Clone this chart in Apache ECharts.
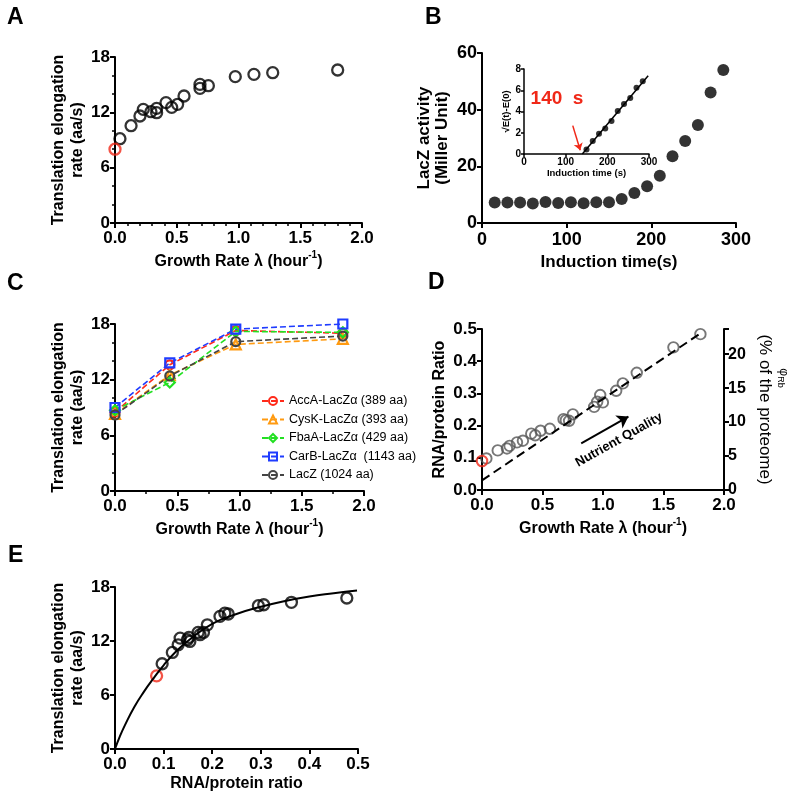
<!DOCTYPE html>
<html><head><meta charset="utf-8">
<script src="https://cdn.jsdelivr.net/npm/echarts@6/dist/echarts.min.js"></script>
<style>html,body{margin:0;padding:0;background:#fff}#c{width:800px;height:797px}</style>
</head><body><div id="c"></div>
<script>
const FONT = '"Liberation Sans", Arial, Helvetica, sans-serif';

// ---- Panel A: elongation rate vs growth rate ----
const aGrowth = [0.040, 0.13, 0.202, 0.229, 0.291, 0.337, 0.337, 0.413, 0.459, 0.507, 0.559, 0.688, 0.688, 0.756, 0.974, 1.125, 1.277, 1.803];
const aRate   = [9.14, 10.55, 11.6, 12.32, 12.07, 11.96, 12.43, 13.05, 12.54, 12.87, 13.77, 15.03, 14.6, 14.89, 15.87, 16.12, 16.3, 16.59];
const aRedGrowth = [0.0];
const aRedRate   = [8.0];

// ---- Panel B: LacZ induction kinetics ----
const bTime = [15, 30, 45, 60, 75, 90, 105, 120, 135, 150, 165, 180, 195, 210, 225, 240, 255, 270, 285];
const bActivity = [7.2, 7.2, 7.2, 6.85, 7.4, 7.1, 7.3, 7.0, 7.3, 7.3, 8.5, 10.6, 13.0, 16.7, 23.6, 28.9, 34.6, 46.1, 54.0];
const insetTime = [150, 165, 180, 195, 210, 225, 240, 255, 270, 285];
const insetSqrt = [0.42, 1.22, 1.9, 2.4, 3.1, 4.05, 4.7, 5.27, 6.23, 6.84];
const insetFitTime = [140, 298];
const insetFitSqrt = [0, 7.36];
const lagArrowTime = [117, 135];
const lagArrowSqrt = [2.67, 0.35];

// ---- Panel C: reporters ----
const cGrowth = [0.0, 0.44, 0.97, 1.83];
const cNames = ['AccA-LacZα (389 aa)', 'CysK-LacZα (393 aa)', 'FbaA-LacZα (429 aa)', 'CarB-LacZα  (1143 aa)', 'LacZ (1024 aa)'];
const cAccA = [8.5, 13.6, 17.3, 17.0];
const cCysK = [8.3, 12.5, 15.8, 16.4];
const cFbaA = [8.7, 11.7, 17.2, 17.1];
const cCarB = [9.0, 13.8, 17.45, 18.0];
const cLacZ = [8.2, 12.4, 16.1, 16.7];

// ---- Panel D: RNA/protein vs growth rate ----
const dGrowth = [0.036, 0.13, 0.206, 0.228, 0.289, 0.338, 0.407, 0.44, 0.484, 0.561, 0.674, 0.693, 0.72, 0.751, 0.927, 0.952, 0.977, 0.999, 1.109, 1.164, 1.279, 1.582, 1.805];
const dRatio  = [0.098, 0.123, 0.129, 0.137, 0.148, 0.153, 0.175, 0.17, 0.184, 0.19, 0.22, 0.217, 0.215, 0.235, 0.258, 0.274, 0.295, 0.272, 0.308, 0.331, 0.364, 0.443, 0.484];
const dRedGrowth = [0.0];
const dRedRatio  = [0.09];
const dFitGrowth = [0.0, 1.8];
const dFitRatio  = [0.03, 0.485];
const nqArrowGrowth = [0.82, 1.21];
const nqArrowRatio  = [0.145, 0.228];

// ---- Panel E: elongation rate vs RNA/protein ----
const eRatio = [0.097, 0.118, 0.130, 0.134, 0.149, 0.154, 0.152, 0.171, 0.175, 0.182, 0.19, 0.216, 0.226, 0.233, 0.295, 0.306, 0.363, 0.477];
const eRate  = [9.47, 10.73, 11.58, 12.32, 12.14, 11.95, 12.4, 12.95, 12.7, 12.95, 13.8, 14.74, 15.1, 15.0, 15.92, 16.03, 16.3, 16.78];
const eRedRatio = [0.0856];
const eRedRate  = [8.13];
const eCurveRatio = [0, 0.01, 0.02, 0.04, 0.06, 0.08, 0.1, 0.125, 0.15, 0.2, 0.25, 0.3, 0.35, 0.4, 0.45, 0.498];
const eCurveRate  = [0, 1.4, 2.6, 4.7, 6.4, 7.9, 9.3, 10.8, 12.0, 13.9, 15.0, 15.8, 16.45, 16.95, 17.3, 17.6];

const zip = (xs, ys) => xs.map((x, i) => [x, ys[i]]);

const RED = '#f02818';
const rich16 = {
  t: {fontSize: 16, fontWeight: 'bold', fontFamily: FONT, color: '#000', lineHeight: 20, verticalAlign: 'bottom'},
  s: {fontSize: 10, fontWeight: 'bold', fontFamily: FONT, color: '#000', lineHeight: 10, verticalAlign: 'top'}
};
const growthName = '{t|Growth Rate λ (hour}{s|-1}{t|)}';

function axis(grid, min, max, interval, o) {
  o = o || {};
  const fs = o.fs || 17;
  const a = {
    type: 'value', gridIndex: grid, min: min, max: max, interval: interval,
    axisLine: {show: true, onZero: false, lineStyle: {color: '#000', width: o.lw || 2}},
    axisTick: {show: true, length: o.tl || 5, lineStyle: {color: '#000', width: o.lw || 2}},
    splitLine: {show: false},
    axisLabel: {color: '#000', fontSize: fs, fontWeight: 'bold', fontFamily: FONT, margin: o.margin || 6,
      formatter: o.fmt || (v => String(v))},
    name: o.name || '', nameLocation: 'middle', nameGap: o.nameGap || 30,
    nameTextStyle: o.nameStyle || {color: '#000', fontSize: 16, fontWeight: 'bold', fontFamily: FONT, lineHeight: 19}
  };
  if (o.minor) a.minorTick = {show: true, splitNumber: o.minor, length: 3, lineStyle: {color: '#000', width: 1.5}};
  if (o.position) a.position = o.position;
  if (o.nameRotate !== undefined) a.nameRotate = o.nameRotate;
  return a;
}
const f1 = v => v.toFixed(1);

const hollow = (c, w) => ({color: 'rgba(0,0,0,0)', borderColor: c, borderWidth: w || 2.3});

const chart = echarts.init(document.getElementById('c'), null, {renderer: 'canvas'});
chart.setOption({
  animation: false,
  backgroundColor: '#fff',
  grid: [
    {left: 115, top: 57, width: 247, height: 166},
    {left: 482, top: 53, width: 254, height: 170},
    {left: 524, top: 69, width: 125, height: 85},
    {left: 115, top: 324, width: 249, height: 167},
    {left: 482, top: 329, width: 242, height: 161},
    {left: 115, top: 587, width: 243, height: 162}
  ],
  xAxis: [
    axis(0, 0, 2, 0.5, {fmt: f1, minor: 5, margin: 7, name: growthName, nameGap: 27,
      nameStyle: {rich: rich16}}),
    axis(1, 0, 300, 100, {fs: 18, margin: 8, name: 'Induction time(s)', nameGap: 31,
      nameStyle: {color: '#000', fontSize: 17, fontWeight: 'bold', fontFamily: FONT}}),
    axis(2, 0, 300, 100, {fs: 10, margin: 3, tl: 3, lw: 1.5, name: 'Induction time (s)', nameGap: 13,
      nameStyle: {color: '#000', fontSize: 9.5, fontWeight: 'bold', fontFamily: FONT}}),
    axis(3, 0, 2, 0.5, {fmt: f1, minor: 2, margin: 7, name: growthName, nameGap: 27,
      nameStyle: {rich: rich16}}),
    axis(4, 0, 2, 0.5, {fmt: f1, margin: 7, name: growthName, nameGap: 27,
      nameStyle: {rich: rich16}}),
    axis(5, 0, 0.5, 0.1, {fmt: f1, margin: 7, name: 'RNA/protein ratio', nameGap: 23})
  ],
  yAxis: [
    axis(0, 0, 18, 6, {minor: 3, margin: 5, name: 'Translation elongation\nrate (aa/s)', nameGap: 27}),
    axis(1, 0, 60, 20, {fs: 18, margin: 5, name: 'LacZ activity\n(Miller Unit)', nameGap: 31,
      nameStyle: {color: '#000', fontSize: 17, fontWeight: 'bold', fontFamily: FONT, lineHeight: 18}}),
    axis(2, 0, 8, 2, {fs: 10, margin: 3, tl: 3, lw: 1.5, name: '√E(t)-E(0)', nameGap: 13,
      nameStyle: {color: '#000', fontSize: 9.5, fontWeight: 'bold', fontFamily: FONT}}),
    axis(3, 0, 18, 6, {minor: 3, margin: 5, name: 'Translation elongation\nrate (aa/s)', nameGap: 27}),
    axis(4, 0, 0.5, 0.1, {fmt: f1, margin: 5, name: 'RNA/protein Ratio', nameGap: 31}),
    axis(4, 0, 23.7, 5, {position: 'right', margin: 4, fs: 16,
      fmt: v => (Math.abs(v % 5) < 1e-9 ? String(v) : ''),
      name: '(% of the proteome)', nameGap: 32, nameRotate: -90,
      nameStyle: {color: '#000', fontSize: 17, fontWeight: 'normal', fontFamily: FONT}}),
    axis(5, 0, 18, 6, {margin: 5, name: 'Translation elongation\nrate (aa/s)', nameGap: 27})
  ],
  legend: {
    orient: 'vertical', left: 256, top: 389, itemGap: 4.5, itemWidth: 22, itemHeight: 10,
    data: cNames,
    textStyle: {color: '#000', fontSize: 12.5, fontFamily: FONT, lineHeight: 14}
  },
  series: [
    // A
    {type: 'scatter', xAxisIndex: 0, yAxisIndex: 0, symbolSize: 11, data: zip(aGrowth, aRate), itemStyle: hollow('#000')},
    {type: 'scatter', xAxisIndex: 0, yAxisIndex: 0, symbolSize: 11, data: zip(aRedGrowth, aRedRate), itemStyle: hollow(RED)},
    // B
    {type: 'scatter', xAxisIndex: 1, yAxisIndex: 1, symbolSize: 12, data: zip(bTime, bActivity), itemStyle: {color: '#000'}},
    {type: 'line', xAxisIndex: 2, yAxisIndex: 2, symbol: 'none', data: zip(insetFitTime, insetFitSqrt),
      lineStyle: {color: '#000', width: 1.5},
      markLine: {silent: true, symbol: ['none', 'arrow'], symbolSize: 7, label: {show: false},
        lineStyle: {color: RED, width: 1.5, type: 'solid'},
        data: [[{coord: [lagArrowTime[0], lagArrowSqrt[0]]}, {coord: [lagArrowTime[1], lagArrowSqrt[1]]}]]}},
    {type: 'scatter', xAxisIndex: 2, yAxisIndex: 2, symbolSize: 6, data: zip(insetTime, insetSqrt), itemStyle: {color: '#000'}},
    // C
    {name: cNames[0], type: 'line', xAxisIndex: 3, yAxisIndex: 3, data: zip(cGrowth, cAccA), symbol: 'circle', symbolSize: 9,
      itemStyle: hollow('#ff2a1a', 2.2), lineStyle: {color: '#ff2a1a', width: 1.6, type: [6, 3]}},
    {name: cNames[1], type: 'line', xAxisIndex: 3, yAxisIndex: 3, data: zip(cGrowth, cCysK), symbol: 'triangle', symbolSize: 10,
      itemStyle: hollow('#ff9a10', 2.2), lineStyle: {color: '#ff9a10', width: 1.6, type: [6, 3]}},
    {name: cNames[2], type: 'line', xAxisIndex: 3, yAxisIndex: 3, data: zip(cGrowth, cFbaA), symbol: 'diamond', symbolSize: 10,
      itemStyle: hollow('#22e022', 2.2), lineStyle: {color: '#22e022', width: 1.6, type: [6, 3]}},
    {name: cNames[3], type: 'line', xAxisIndex: 3, yAxisIndex: 3, data: zip(cGrowth, cCarB), symbol: 'rect', symbolSize: 9,
      itemStyle: hollow('#1f3cff', 2.2), lineStyle: {color: '#1f3cff', width: 1.6, type: [6, 3]}},
    {name: cNames[4], type: 'line', xAxisIndex: 3, yAxisIndex: 3, data: zip(cGrowth, cLacZ), symbol: 'circle', symbolSize: 9,
      itemStyle: hollow('#444', 2.2), lineStyle: {color: '#444', width: 1.6, type: [6, 3]}},
    // D
    {type: 'line', xAxisIndex: 4, yAxisIndex: 4, symbol: 'none', data: zip(dFitGrowth, dFitRatio),
      lineStyle: {color: '#000', width: 2, type: [9, 5]},
      markLine: {silent: true, symbol: ['none', 'arrow'], symbolSize: 11, label: {show: false},
        lineStyle: {color: '#000', width: 2, type: 'solid'},
        data: [[{coord: [nqArrowGrowth[0], nqArrowRatio[0]]}, {coord: [nqArrowGrowth[1], nqArrowRatio[1]]}]]}},
    {type: 'scatter', xAxisIndex: 4, yAxisIndex: 4, symbolSize: 10.5, data: zip(dGrowth, dRatio), itemStyle: hollow('#555', 1.9)},
    {type: 'scatter', xAxisIndex: 4, yAxisIndex: 4, symbolSize: 10.5, data: zip(dRedGrowth, dRedRatio), itemStyle: hollow(RED, 2.1)},
    // E
    {type: 'line', xAxisIndex: 5, yAxisIndex: 6, symbol: 'none', smooth: true, data: zip(eCurveRatio, eCurveRate),
      lineStyle: {color: '#000', width: 2}},
    {type: 'scatter', xAxisIndex: 5, yAxisIndex: 6, symbolSize: 11, data: zip(eRatio, eRate), itemStyle: hollow('#000')},
    {type: 'scatter', xAxisIndex: 5, yAxisIndex: 6, symbolSize: 11, data: zip(eRedRatio, eRedRate), itemStyle: hollow(RED)}
  ],
  graphic: [
    {type: 'text', style: {text: 'A', x: 7, y: 6, font: 'bold 23px ' + FONT, fill: '#000'}},
    {type: 'text', style: {text: 'B', x: 425, y: 6, font: 'bold 23px ' + FONT, fill: '#000'}},
    {type: 'text', style: {text: 'C', x: 7, y: 272, font: 'bold 23px ' + FONT, fill: '#000'}},
    {type: 'text', style: {text: 'D', x: 428, y: 271, font: 'bold 23px ' + FONT, fill: '#000'}},
    {type: 'text', style: {text: 'E', x: 8, y: 544, font: 'bold 23px ' + FONT, fill: '#000'}},
    {type: 'text', style: {text: '140  s', x: 557, y: 99, textAlign: 'center', textVerticalAlign: 'middle',
      font: 'bold 19px ' + FONT, fill: RED}},
    {type: 'text', x: 619, y: 440, rotation: 0.51,
      style: {text: 'Nutrient Quality', x: 0, y: 0, textAlign: 'center', textVerticalAlign: 'middle',
        font: 'bold 13px ' + FONT, fill: '#000'}},
    {type: 'text', x: 783, y: 378, rotation: -Math.PI / 2,
      style: {text: '{p|φ}{s|Rb}', x: 0, y: 0, textAlign: 'center', textVerticalAlign: 'middle',
        rich: {p: {fontSize: 12, fontFamily: FONT, fill: '#000'}, s: {fontSize: 9, fontFamily: FONT, fill: '#000', verticalAlign: 'bottom', padding: [6, 0, 0, 0]}}}}
  ]
});
</script></body></html>
